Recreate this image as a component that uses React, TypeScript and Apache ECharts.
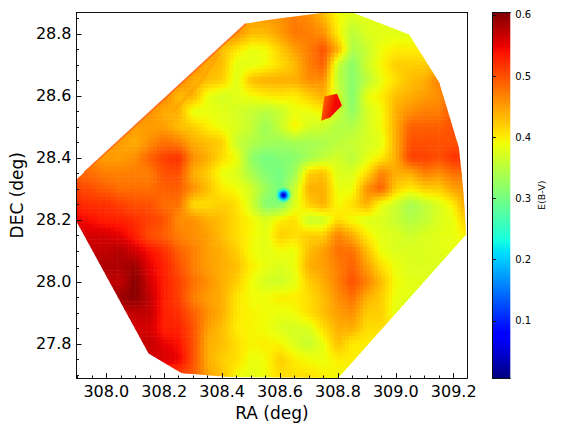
import React, { useEffect, useRef } from "react";
import * as echarts from "echarts";

const raNodes = [307.89,307.95,308.0,308.05,308.1,308.15,308.2,308.25,308.3,308.35,308.4,308.45,308.5,308.55,308.6,308.65,308.7,308.75,308.8,308.85,308.9,308.95,309.0,309.05,309.1,309.15,309.2,309.25];
const decNodes = [28.87,28.8,28.75,28.7,28.65,28.6,28.55,28.5,28.45,28.4,28.35,28.3,28.25,28.2,28.15,28.1,28.05,28.0,27.95,27.9,27.85,27.8,27.75,27.69];
// E(B-V), one row per DEC node, one column per RA node
const ebvRows = [
[.46,.46,.46,.46,.46,.46,.46,.46,.46,.46,.46,.46,.46,.46,.46,.47,.46,.43,.39,.38,.38,.38,.38,.38,.38,.38,.38,.38],
[.47,.47,.47,.47,.47,.47,.47,.47,.47,.47,.47,.46,.43,.43,.45,.475,.47,.46,.40,.35,.375,.38,.38,.38,.38,.38,.38,.38],
[.47,.47,.47,.47,.47,.47,.47,.47,.47,.47,.43,.405,.385,.39,.42,.45,.47,.50,.44,.34,.36,.39,.40,.40,.40,.41,.41,.41],
[.47,.47,.47,.47,.47,.47,.47,.47,.47,.44,.43,.38,.38,.39,.41,.43,.47,.49,.36,.315,.365,.395,.42,.42,.42,.43,.44,.44],
[.47,.47,.47,.47,.47,.47,.47,.47,.44,.43,.42,.375,.43,.44,.44,.44,.46,.46,.355,.315,.35,.385,.41,.43,.44,.47,.49,.49],
[.47,.47,.47,.47,.47,.47,.47,.43,.44,.385,.37,.38,.39,.40,.405,.40,.42,.44,.37,.31,.385,.40,.43,.44,.45,.46,.49,.49],
[.47,.47,.47,.47,.47,.46,.44,.44,.38,.385,.38,.37,.36,.35,.36,.385,.385,.40,.365,.32,.37,.39,.44,.46,.47,.47,.50,.50],
[.47,.47,.47,.47,.45,.45,.45,.43,.42,.40,.385,.375,.36,.33,.36,.40,.37,.365,.345,.345,.37,.39,.44,.49,.49,.49,.50,.50],
[.46,.46,.46,.45,.44,.46,.48,.47,.44,.43,.42,.36,.345,.335,.33,.335,.335,.34,.35,.36,.37,.38,.44,.50,.50,.50,.50,.50],
[.46,.46,.45,.45,.46,.49,.51,.52,.46,.44,.41,.39,.32,.30,.31,.315,.335,.355,.37,.35,.38,.40,.44,.51,.51,.50,.52,.52],
[.49,.48,.47,.47,.47,.47,.50,.50,.44,.42,.385,.375,.34,.31,.30,.33,.42,.43,.375,.375,.41,.47,.44,.44,.47,.46,.48,.48],
[.51,.50,.49,.48,.48,.48,.49,.49,.46,.43,.40,.39,.37,.33,.30,.36,.44,.44,.385,.385,.46,.49,.42,.40,.42,.42,.45,.45],
[.53,.52,.52,.51,.50,.50,.48,.48,.41,.41,.42,.41,.37,.31,.31,.375,.42,.44,.39,.41,.44,.385,.365,.335,.355,.375,.40,.46],
[.55,.54,.53,.53,.52,.51,.50,.46,.46,.44,.43,.41,.395,.375,.40,.41,.36,.365,.41,.39,.375,.375,.36,.345,.355,.375,.385,.43],
[.56,.56,.56,.55,.53,.50,.49,.47,.46,.45,.43,.41,.395,.38,.42,.41,.42,.42,.47,.44,.40,.38,.375,.365,.375,.38,.385,.40],
[.57,.57,.57,.58,.56,.54,.52,.49,.47,.45,.44,.42,.39,.38,.39,.385,.43,.45,.48,.48,.43,.385,.375,.375,.375,.38,.385,.385],
[.58,.58,.58,.58,.59,.55,.53,.50,.47,.45,.44,.43,.40,.385,.375,.385,.44,.45,.47,.49,.45,.41,.385,.375,.375,.375,.375,.375],
[.57,.57,.57,.57,.60,.56,.53,.51,.48,.46,.44,.42,.39,.37,.365,.38,.42,.44,.47,.50,.47,.43,.39,.38,.38,.38,.38,.38],
[.59,.59,.59,.59,.60,.57,.53,.51,.47,.45,.44,.405,.39,.39,.40,.40,.41,.43,.46,.48,.44,.42,.385,.38,.38,.38,.38,.38],
[.57,.57,.57,.57,.57,.57,.53,.52,.49,.46,.44,.405,.395,.39,.385,.39,.41,.43,.45,.46,.42,.42,.38,.38,.38,.38,.38,.38],
[.56,.56,.56,.56,.56,.56,.53,.53,.50,.45,.43,.40,.395,.39,.375,.37,.375,.41,.44,.44,.41,.41,.41,.41,.41,.41,.41,.41],
[.57,.57,.57,.57,.57,.57,.55,.54,.50,.44,.43,.41,.395,.40,.395,.375,.36,.385,.43,.40,.40,.40,.40,.40,.40,.40,.40,.40],
[.56,.56,.56,.56,.56,.56,.56,.55,.50,.44,.42,.41,.385,.39,.42,.40,.39,.385,.40,.40,.40,.40,.40,.40,.40,.40,.40,.40],
[.50,.50,.50,.50,.50,.50,.50,.50,.49,.45,.43,.39,.38,.39,.41,.41,.41,.40,.39,.39,.39,.39,.39,.39,.39,.39,.39,.39],
];
const hullRa = [308.482,308.557,308.756,308.849,309.046,309.150,309.218,309.233,309.243,308.801,308.420,308.259,308.146,307.897,307.897,307.923];
const hullDec = [28.833,28.845,28.869,28.869,28.798,28.643,28.433,28.298,28.153,27.69,27.693,27.706,27.769,28.195,28.330,28.353];
// The small red knot, with its two end values
const knotRa = [308.753,308.797,308.814,308.773,308.742];
const knotDec = [28.598,28.607,28.569,28.530,28.520];
const knotValues = [0.47, 0.545];
// The blue minimum
const dipRa = 308.612;
const dipDec = 28.28;
const dipValues = [0.02, 0.1, 0.22];
// Thin ridges: the upper-left rim and the orange streak below it
const rimRa = [307.923,308.482];
const rimDec = [28.353,28.833];
const rimValue = 0.5;
const streakRa = [308.39,308.33,308.23];
const streakDec = [28.74,28.65,28.55];
const streakValue = 0.45;

const raTicks = [308.0,308.2,308.4,308.6,308.8,309.0,309.2];
const raMinor = [307.9,307.95,308.05,308.1,308.15,308.25,308.3,308.35,308.45,308.5,308.55,308.65,308.7,308.75,308.85,308.9,308.95,309.05,309.1,309.15,309.25 - 0.0];
const decTicks = [27.8,28.0,28.2,28.4,28.6,28.8];
const decMinor = [27.7,27.75,27.85,27.9,27.95,28.05,28.1,28.15,28.25,28.3,28.35,28.45,28.5,28.55,28.65,28.7,28.75,28.85];
const cbTicks = [0.1,0.2,0.3,0.4,0.5,0.6];
const V_MIN = 0.0066;
const V_MAX = 0.604;

const RED = [[0,0],[0.35,0],[0.66,1],[0.89,1],[1,0.5]];
const GREEN = [[0,0],[0.125,0],[0.375,1],[0.64,1],[0.91,0],[1,0]];
const BLUE = [[0,0.5],[0.11,1],[0.34,1],[0.65,0],[1,0]];
const STOPS = [0,0.11,0.125,0.34,0.35,0.375,0.64,0.65,0.66,0.89,0.91,1];

function seg(table: number[][], t: number) {
  for (let k = 1; k < table.length; k++) {
    if (t <= table[k][0]) {
      const [a, va] = table[k - 1];
      const [b, vb] = table[k];
      return va + ((vb - va) * (t - a)) / (b - a);
    }
  }
  return table[table.length - 1][1];
}
function jetT(t: number) {
  const c = Math.max(0, Math.min(1, t));
  return `rgb(${Math.round(seg(RED, c) * 255)},${Math.round(seg(GREEN, c) * 255)},${Math.round(seg(BLUE, c) * 255)})`;
}
const jet = (v: number) => jetT((v - V_MIN) / (V_MAX - V_MIN));

function inHull(x: number, y: number) {
  let inside = false;
  for (let a = 0, b = hullRa.length - 1; a < hullRa.length; b = a++) {
    if (hullDec[a] > y !== hullDec[b] > y && x < ((hullRa[b] - hullRa[a]) * (y - hullDec[a])) / (hullDec[b] - hullDec[a]) + hullRa[a]) inside = !inside;
  }
  return inside;
}

const SUB = 4;
const cells: number[][] = [];
for (let j = 0; j < decNodes.length - 1; j++) for (let i = 0; i < raNodes.length - 1; i++) cells.push([i, j]);

const mainGrid = { left: 74.5, right: 108.7, top: 12.5, bottom: 54 };
const axisFont = { fontFamily: "DejaVu Sans", color: "#000" };
const line = { show: true, lineStyle: { color: "#111", width: 1 } };

export default function App() {
  const ref = useRef<HTMLDivElement>(null);
  useEffect(() => {
    const chart = echarts.init(ref.current!, undefined, { renderer: "svg" });
    const hullPoints = (api: any) => hullRa.map((x, k) => api.coord([x, hullDec[k]]));
    chart.setOption({
      animation: false,
      backgroundColor: "#fff",
      grid: [
        { ...mainGrid, show: false },
        { left: 492.3, width: 18, top: 12.5, bottom: 54, show: false },
      ],
      xAxis: [
        {
          type: "value", gridIndex: 0, position: "bottom", min: 307.897, max: 309.247, z: 5,
          name: "RA (deg)", nameLocation: "middle", nameGap: 26,
          nameTextStyle: { ...axisFont, fontSize: 17 },
          axisLine: line, splitLine: { show: false },
          axisTick: { show: true, inside: true, length: 5, customValues: raTicks, lineStyle: { color: "#111" } },
          axisLabel: { show: true, customValues: raTicks, margin: 5, fontSize: 16, ...axisFont, formatter: (v: number) => v.toFixed(1) },
        },
        {
          type: "value", gridIndex: 0, position: "bottom", min: 307.897, max: 309.247, z: 5,
          axisLine: { show: false }, splitLine: { show: false },
          axisTick: { show: true, inside: true, length: 2.5, customValues: raMinor, lineStyle: { color: "#111" } },
          axisLabel: { show: false },
        },
        {
          type: "value", gridIndex: 0, position: "top", min: 307.897, max: 309.247, z: 5,
          axisLine: line, splitLine: { show: false }, axisTick: { show: false }, axisLabel: { show: false },
        },
        { type: "value", gridIndex: 1, min: 0, max: 1, position: "bottom", z: 5, axisLine: line, splitLine: { show: false }, axisTick: { show: false }, axisLabel: { show: false } },
        { type: "value", gridIndex: 1, min: 0, max: 1, position: "top", z: 5, axisLine: line, splitLine: { show: false }, axisTick: { show: false }, axisLabel: { show: false } },
      ],
      yAxis: [
        {
          type: "value", gridIndex: 0, position: "left", min: 27.69, max: 28.869, z: 5,
          name: "DEC (deg)", nameLocation: "middle", nameGap: 49,
          nameTextStyle: { ...axisFont, fontSize: 17 },
          axisLine: line, splitLine: { show: false },
          axisTick: { show: true, inside: true, length: 5, customValues: decTicks, lineStyle: { color: "#111" } },
          axisLabel: { show: true, customValues: decTicks, margin: 5, fontSize: 16, ...axisFont, formatter: (v: number) => v.toFixed(1) },
        },
        {
          type: "value", gridIndex: 0, position: "left", min: 27.69, max: 28.869, z: 5,
          axisLine: { show: false }, splitLine: { show: false },
          axisTick: { show: true, inside: true, length: 2.5, customValues: decMinor, lineStyle: { color: "#111" } },
          axisLabel: { show: false },
        },
        {
          type: "value", gridIndex: 0, position: "right", min: 27.69, max: 28.869, z: 5,
          axisLine: line, splitLine: { show: false }, axisTick: { show: false }, axisLabel: { show: false },
        },
        {
          type: "value", gridIndex: 1, position: "right", min: V_MIN, max: V_MAX, z: 5,
          name: "E(B-V)", nameLocation: "middle", nameGap: 26, nameRotate: 90,
          nameTextStyle: { ...axisFont, fontSize: 9.5 },
          axisLine: line, splitLine: { show: false },
          axisTick: { show: true, inside: false, length: 3.5, customValues: cbTicks, lineStyle: { color: "#111" } },
          axisLabel: { show: true, customValues: cbTicks, margin: 5, fontSize: 10, ...axisFont, formatter: (v: number) => v.toFixed(1) },
        },
        { type: "value", gridIndex: 1, position: "left", min: V_MIN, max: V_MAX, z: 5, axisLine: line, splitLine: { show: false }, axisTick: { show: false }, axisLabel: { show: false } },
      ],
      series: [
        {
          type: "custom", xAxisIndex: 0, yAxisIndex: 0, z: 2, silent: true, clip: true,
          data: cells,
          renderItem: (_p: any, api: any) => {
            const i = api.value(0);
            const j = api.value(1);
            const corners = [[i, j], [i + 1, j], [i, j + 1], [i + 1, j + 1]];
            const flags = corners.map(([a, b]) => inHull(raNodes[a], decNodes[b]));
            const p0 = api.coord([raNodes[i], decNodes[j]]);
            const p1 = api.coord([raNodes[i + 1], decNodes[j + 1]]);
            const w = (p1[0] - p0[0]) / SUB;
            const h = (p1[1] - p0[1]) / SUB;
            const children: any[] = [];
            for (let a = 0; a < SUB; a++) {
              for (let b = 0; b < SUB; b++) {
                const u = (a + 0.5) / SUB;
                const t = (b + 0.5) / SUB;
                const v =
                  ebvRows[j][i] * (1 - u) * (1 - t) + ebvRows[j][i + 1] * u * (1 - t) +
                  ebvRows[j + 1][i] * (1 - u) * t + ebvRows[j + 1][i + 1] * u * t;
                children.push({
                  type: "rect",
                  shape: { x: p0[0] + a * w, y: p0[1] + b * h, width: w + 0.6, height: h + 0.6 },
                  style: { fill: jet(v) },
                });
              }
            }
            const group: any = { type: "group", children };
            if (!flags.every(Boolean)) group.clipPath = { type: "polygon", shape: { points: hullPoints(api) } };
            return group;
          },
        },
        {
          type: "custom", xAxisIndex: 0, yAxisIndex: 0, z: 3, silent: true,
          data: [[0, 0]],
          renderItem: (_p: any, api: any) => {
            const knot = knotRa.map((x, k) => api.coord([x, knotDec[k]]));
            const c = api.coord([dipRa, dipDec]);
            const rim = rimRa.map((x, k) => api.coord([x, rimDec[k]]));
            const streak = streakRa.map((x, k) => api.coord([x, streakDec[k]]));
            return {
              type: "group",
              children: [
                { type: "polyline", shape: { points: streak }, style: { fill: "none", stroke: jet(streakValue), lineWidth: 3.5, opacity: 0.55 } },
                { type: "polyline", shape: { points: rim }, style: { fill: "none", stroke: jet(rimValue), lineWidth: 1.5, opacity: 0.7 } },
                {
                  type: "polygon", shape: { points: knot },
                  style: {
                    fill: new echarts.graphic.LinearGradient(0, 0, 1, 0.3, [
                      { offset: 0, color: jet(knotValues[0]) },
                      { offset: 0.7, color: jet(knotValues[1]) },
                      { offset: 1, color: jet(knotValues[1]) },
                    ]),
                  },
                },
                {
                  type: "circle", shape: { cx: c[0], cy: c[1], r: 9 },
                  style: {
                    fill: new echarts.graphic.RadialGradient(0.5, 0.5, 0.5, [
                      { offset: 0, color: jet(dipValues[0]) },
                      { offset: 0.22, color: jet(dipValues[1]) },
                      { offset: 0.55, color: jet(dipValues[2]) },
                      { offset: 1, color: "rgba(120,255,130,0)" },
                    ]),
                  },
                },
              ],
            };
          },
        },
        {
          type: "custom", xAxisIndex: 3, yAxisIndex: 3, z: 2, silent: true,
          data: [[0, V_MIN]],
          renderItem: (_p: any, api: any) => {
            const a = api.coord([0, V_MAX]);
            const b = api.coord([1, V_MIN]);
            return {
              type: "rect",
              shape: { x: a[0], y: a[1], width: b[0] - a[0], height: b[1] - a[1] },
              style: {
                fill: new echarts.graphic.LinearGradient(0, 1, 0, 0, STOPS.map((s) => ({ offset: s, color: jetT(s) }))),
              },
            };
          },
        },
      ],
    });
    return () => chart.dispose();
  }, []);
  return <div ref={ref} style={{ position: "absolute", left: 0, top: 0, width: 576, height: 432 }} />;
}
